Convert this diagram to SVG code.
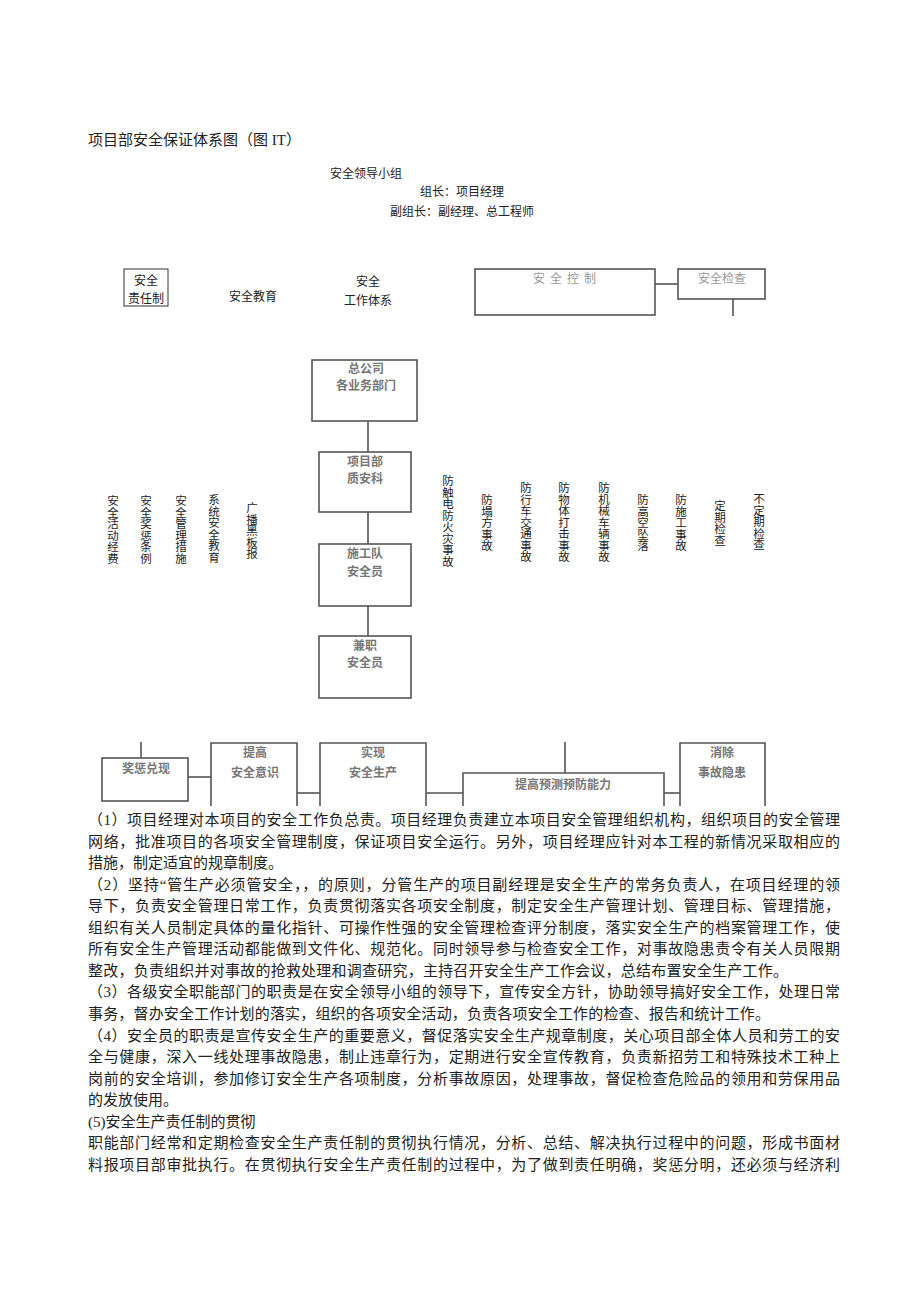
<svg xmlns="http://www.w3.org/2000/svg" width="920" height="1301" viewBox="0 0 920 1301">
<style>
.bg{fill:#ffffff}
.box{fill:none;stroke:#555;stroke-width:1.6}
.thin{fill:none;stroke:#333;stroke-width:1}
.ln{fill:none;stroke:#555;stroke-width:1.6}
.lbl{font-family:"Liberation Sans","Noto Sans CJK SC",sans-serif;font-size:12px;fill:#222}
.gl{font-family:"Liberation Sans","Noto Sans CJK SC",sans-serif;font-size:12px;fill:#777;font-weight:bold;text-anchor:middle}
.gl2{font-family:"Liberation Sans","Noto Sans CJK SC",sans-serif;font-size:12px;fill:#999;text-anchor:middle}
.vt{font-family:"Liberation Sans","Noto Sans CJK SC",sans-serif;font-size:11.5px;fill:#222;writing-mode:vertical-rl}
.p{font-family:"Liberation Serif","Noto Sans CJK SC",serif;font-size:15px;fill:#222}
.c{text-anchor:middle}
</style>
<rect class="bg" x="0" y="0" width="920" height="1301"/>

<text class="p" x="88" y="145">项目部安全保证体系图（图 IT）</text>

<g id="leader">
<text class="lbl" x="330" y="177.5">安全领导小组</text>
<text class="lbl" x="420" y="196">组长：项目经理</text>
<text class="lbl" x="390" y="216">副组长：副经理、总工程师</text>
</g>

<g id="connectors">
<line class="ln" x1="655" y1="284" x2="678" y2="284"/>
<line class="ln" x1="733" y1="299" x2="733" y2="316"/>
<line class="ln" x1="368" y1="421" x2="368" y2="452"/>
<line class="ln" x1="368" y1="512" x2="368" y2="544"/>
<line class="ln" x1="368" y1="606" x2="368" y2="636"/>
<line class="ln" x1="141" y1="742" x2="141" y2="758"/>
<line class="ln" x1="188" y1="777" x2="211" y2="777"/>
<line class="ln" x1="297" y1="793" x2="320" y2="793"/>
<line class="ln" x1="426" y1="793" x2="463" y2="793"/>
<line class="ln" x1="664" y1="793" x2="680" y2="793"/>
<line class="ln" x1="565" y1="742" x2="565" y2="773"/>
</g>

<g id="n-zerenzhi">
<rect class="thin" x="124" y="269" width="44" height="37"/>
<text class="lbl c" x="146" y="285">安全</text>
<text class="lbl c" x="146" y="303">责任制</text>
</g>
<g id="n-jiaoyu">
<text class="lbl c" x="253" y="301">安全教育</text>
</g>
<g id="n-tixi">
<text class="lbl c" x="368" y="286">安全</text>
<text class="lbl c" x="368" y="305">工作体系</text>
</g>
<g id="n-kongzhi">
<rect class="box" x="475" y="269" width="180" height="46"/>
<text class="gl2" x="567" y="283" letter-spacing="5">安全控制</text>
</g>
<g id="n-jiancha">
<rect class="box" x="678" y="269" width="87" height="30"/>
<text class="gl2" x="722" y="283">安全检查</text>
</g>

<g id="n-zonggongsi">
<rect class="box" x="312" y="360" width="105" height="61"/>
<text class="gl" x="366" y="373">总公司</text>
<text class="gl" x="366" y="390">各业务部门</text>
</g>
<g id="n-zhianke">
<rect class="box" x="319" y="452" width="92" height="60"/>
<text class="gl" x="365" y="466">项目部</text>
<text class="gl" x="365" y="483">质安科</text>
</g>
<g id="n-shigongdui">
<rect class="box" x="319" y="544" width="92" height="62"/>
<text class="gl" x="365" y="558">施工队</text>
<text class="gl" x="365" y="576">安全员</text>
</g>
<g id="n-jianzhi">
<rect class="box" x="319" y="636" width="92" height="62"/>
<text class="gl" x="365" y="650">兼职</text>
<text class="gl" x="365" y="667">安全员</text>
</g>

<g id="left-items">
<text class="vt" x="112" y="495">安全活动经费</text>
<text class="vt" x="145" y="495">安全奖惩条例</text>
<text class="vt" x="180" y="495">安全管理措施</text>
<text class="vt" x="213" y="494">系统安全教育</text>
<text class="vt" x="251" y="502">广播黑板报</text>
</g>
<g id="right-items">
<text class="vt" x="447" y="475">防触电防火灾事故</text>
<text class="vt" x="486" y="494">防塌方事故</text>
<text class="vt" x="525" y="482">防行车交通事故</text>
<text class="vt" x="563" y="482">防物体打击事故</text>
<text class="vt" x="603" y="482">防机械车辆事故</text>
<text class="vt" x="642" y="494">防高空坠落</text>
<text class="vt" x="680" y="494">防施工事故</text>
<text class="vt" x="719" y="500">定期检查</text>
<text class="vt" x="758" y="493">不定期检查</text>
</g>

<g id="n-jiangcheng">
<rect class="box" x="102" y="758" width="86" height="43"/>
<text class="gl" x="146" y="773">奖惩兑现</text>
</g>
<g id="n-yishi">
<path class="box" d="M211,806 V743 H297 V806"/>
<text class="gl" x="255" y="757">提高</text>
<text class="gl" x="255" y="777">安全意识</text>
</g>
<g id="n-shixian">
<path class="box" d="M320,806 V743 H426 V806"/>
<text class="gl" x="373" y="757">实现</text>
<text class="gl" x="373" y="777">安全生产</text>
</g>
<g id="n-yuce">
<path class="box" d="M463,806 V773 H664 V806"/>
<text class="gl" x="563" y="789">提高预测预防能力</text>
</g>
<g id="n-xiaochu">
<path class="box" d="M680,806 V743 H765 V806"/>
<text class="gl" x="722" y="757">消除</text>
<text class="gl" x="722" y="777">事故隐患</text>
</g>

<g id="paragraphs">
<text class="p" x="88" y="825" textLength="752" lengthAdjust="spacing">（1）项目经理对本项目的安全工作负总责。项目经理负责建立本项目安全管理组织机构，组织项目的安全管理</text>
<text class="p" x="88" y="846.5" textLength="752" lengthAdjust="spacing">网络，批准项目的各项安全管理制度，保证项目安全运行。另外，项目经理应针对本工程的新情况采取相应的</text>
<text class="p" x="88" y="868">措施，制定适宜的规章制度。</text>
<text class="p" x="88" y="889.6" textLength="752" lengthAdjust="spacing">（2）坚持“管生产必须管安全，，的原则，分管生产的项目副经理是安全生产的常务负责人，在项目经理的领</text>
<text class="p" x="88" y="911.2" textLength="752" lengthAdjust="spacing">导下，负责安全管理日常工作，负责贯彻落实各项安全制度，制定安全生产管理计划、管理目标、管理措施，</text>
<text class="p" x="88" y="932.8" textLength="752" lengthAdjust="spacing">组织有关人员制定具体的量化指针、可操作性强的安全管理检查评分制度，落实安全生产的档案管理工作，使</text>
<text class="p" x="88" y="954.3" textLength="752" lengthAdjust="spacing">所有安全生产管理活动都能做到文件化、规范化。同时领导参与检查安全工作，对事故隐患责令有关人员限期</text>
<text class="p" x="88" y="975.9" textLength="700" lengthAdjust="spacing">整改，负责组织并对事故的抢救处理和调查研究，主持召开安全生产工作会议，总结布置安全生产工作。</text>
<text class="p" x="88" y="997.4" textLength="752" lengthAdjust="spacing">（3）各级安全职能部门的职责是在安全领导小组的领导下，宣传安全方针，协助领导搞好安全工作，处理日常</text>
<text class="p" x="88" y="1019" textLength="682" lengthAdjust="spacing">事务，督办安全工作计划的落实，组织的各项安全活动，负责各项安全工作的检查、报告和统计工作。</text>
<text class="p" x="88" y="1040.5" textLength="752" lengthAdjust="spacing">（4）安全员的职责是宣传安全生产的重要意义，督促落实安全生产规章制度，关心项目部全体人员和劳工的安</text>
<text class="p" x="88" y="1062" textLength="752" lengthAdjust="spacing">全与健康，深入一线处理事故隐患，制止违章行为，定期进行安全宣传教育，负责新招劳工和特殊技术工种上</text>
<text class="p" x="88" y="1083.6" textLength="752" lengthAdjust="spacing">岗前的安全培训，参加修订安全生产各项制度，分析事故原因，处理事故，督促检查危险品的领用和劳保用品</text>
<text class="p" x="88" y="1105.2">的发放使用。</text>
<text class="p" x="88" y="1126.7">(5)安全生产责任制的贯彻</text>
<text class="p" x="88" y="1148.2" textLength="752" lengthAdjust="spacing">职能部门经常和定期检查安全生产责任制的贯彻执行情况，分析、总结、解决执行过程中的问题，形成书面材</text>
<text class="p" x="88" y="1169.8" textLength="752" lengthAdjust="spacing">料报项目部审批执行。在贯彻执行安全生产责任制的过程中，为了做到责任明确，奖惩分明，还必须与经济利</text>
</g>
</svg>
